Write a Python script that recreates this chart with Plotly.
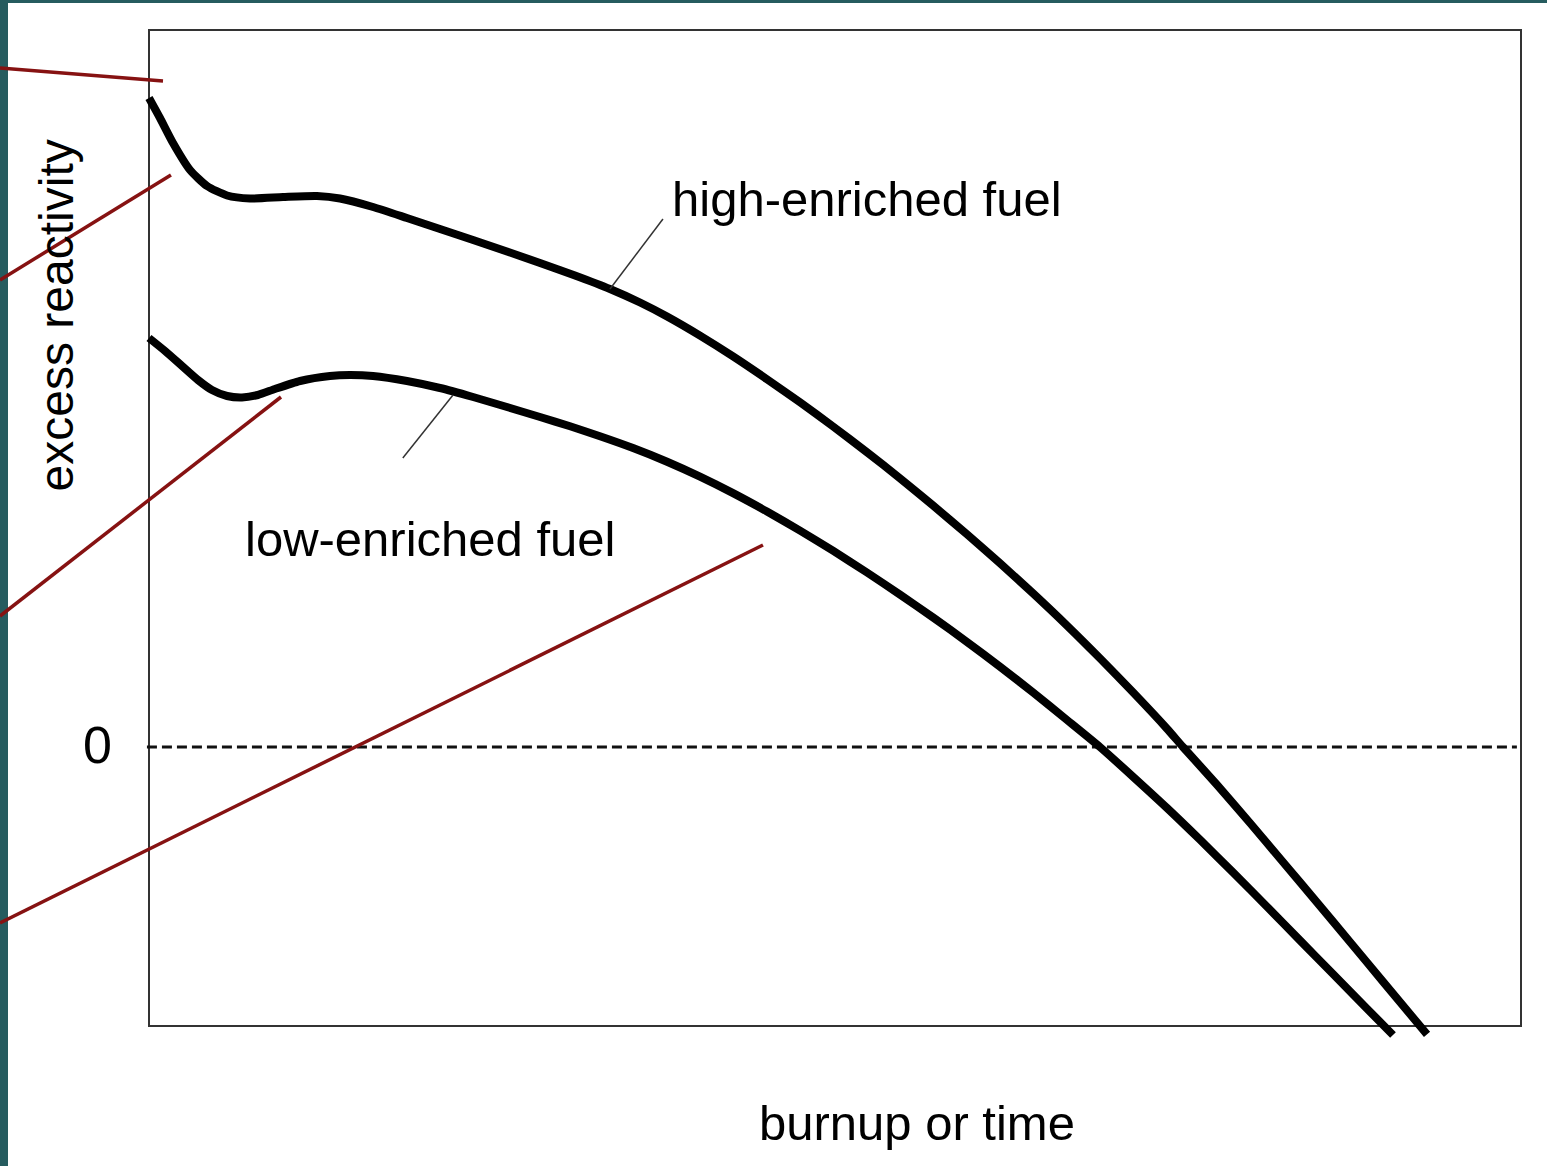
import plotly.graph_objects as go

# ---- data (burnup in % of the axis span, excess reactivity in arbitrary units) ----
burnup_high = [0, 0.80, 1.75, 2.99, 4.23, 5.69, 7.36, 9.77, 12.24, 13.92, 16.33, 18.80, 21.21, 23.62,
               26.09, 28.50, 31.05, 33.60, 35.79, 37.76, 40.16, 42.57, 45.04, 47.45, 49.85, 52.33,
               54.74, 57.14, 59.62, 62.03, 64.43, 66.91, 69.31, 71.72, 74.20, 75.36, 77.84, 80.25,
               82.65, 85.13, 87.54, 89.94, 93.15]
excess_high = [6.49, 6.29, 6.04, 5.77, 5.61, 5.515, 5.485, 5.50, 5.51, 5.485, 5.40, 5.29, 5.18, 5.07,
               4.955, 4.84, 4.715, 4.58, 4.445, 4.305, 4.114, 3.906, 3.678, 3.447, 3.206, 2.948,
               2.687, 2.416, 2.127, 1.837, 1.537, 1.214, 0.887, 0.547, 0.183, 0.0, -0.377, -0.76,
               -1.15, -1.554, -1.95, -2.346, -2.874]

burnup_low = [0, 1.17, 2.41, 3.57, 4.59, 5.69, 6.78, 7.94, 9.18, 11.01, 13.19, 14.65, 16.33, 18.80,
              21.21, 23.62, 26.09, 28.50, 30.69, 32.87, 35.28, 37.76, 40.16, 42.57, 45.04, 47.45,
              49.85, 52.33, 54.74, 57.14, 59.62, 62.03, 64.43, 66.91, 69.31, 71.72, 74.20, 76.60,
              79.01, 81.49, 83.89, 86.30, 88.78, 90.67]
excess_low = [4.09, 3.96, 3.81, 3.67, 3.57, 3.51, 3.495, 3.52, 3.58, 3.66, 3.71, 3.72, 3.71, 3.66,
              3.59, 3.50, 3.40, 3.30, 3.207, 3.108, 2.99, 2.853, 2.704, 2.539, 2.355, 2.164,
              1.963, 1.745, 1.524, 1.296, 1.051, 0.803, 0.546, 0.27, 0.0, -0.297, -0.61, -0.927,
              -1.254, -1.597, -1.934, -2.27, -2.617, -2.88]

curve_names = ["high-enriched fuel", "low-enriched fuel"]
x_title = "burnup or time"
y_title = "excess reactivity"
zero_label = "0"

FONT = "Liberation Sans, Arial, sans-serif"
RED = "#861212"
TEAL = "#265c5f"

fig = go.Figure()
for xs, ys, nm in [(burnup_high, excess_high, curve_names[0]), (burnup_low, excess_low, curve_names[1])]:
    fig.add_trace(go.Scatter(x=xs, y=ys, mode="lines", name=nm,
                             line=dict(color="black", width=8, shape="spline", smoothing=0.6),
                             showlegend=False, hoverinfo="skip"))

shapes = []
# plot frame
shapes.append(dict(type="rect", xref="x", yref="y", x0=0, x1=100, y0=-2.79, y1=7.17,
                   line=dict(color="#333333", width=2), layer="below"))
# zero line
shapes.append(dict(type="line", xref="x", yref="y", x0=-0.15, x1=99.7, y0=0, y1=0,
                   line=dict(color="#111111", width=3, dash="10px,5px"), layer="below"))
# leader lines for labels
shapes.append(dict(type="line", xref="x", yref="y", x0=33.6, y0=4.58, x1=37.46, y1=5.28,
                   line=dict(color="#333333", width=1.5)))
shapes.append(dict(type="line", xref="x", yref="y", x0=18.5, y0=2.89, x1=22.16, y1=3.52,
                   line=dict(color="#333333", width=1.5)))
# slide frame (teal)
shapes.append(dict(type="rect", xref="paper", yref="paper", x0=0, x1=8 / 1547, y0=0, y1=1,
                   fillcolor=TEAL, line=dict(width=0), layer="below"))
shapes.append(dict(type="rect", xref="paper", yref="paper", x0=0, x1=1, y0=1 - 3 / 1166, y1=1,
                   fillcolor=TEAL, line=dict(width=0), layer="below"))
# dark red pointer lines from the slide
for (xa, ya, xb, yb) in [(-10.86, 6.79, 1.02, 6.66),
                         (-10.86, 4.67, 1.60, 5.72),
                         (-10.86, 1.31, 9.62, 3.50),
                         (-10.86, -1.76, 44.75, 2.02)]:
    shapes.append(dict(type="line", xref="x", yref="y", x0=xa, y0=ya, x1=xb, y1=yb,
                       line=dict(color=RED, width=3.5)))

annotations = [
    dict(x=52.33, y=5.48, xref="x", yref="y", text=curve_names[0], showarrow=False,
         font=dict(family=FONT, size=49, color="black"), xanchor="center", yanchor="middle"),
    dict(x=20.48, y=2.08, xref="x", yref="y", text=curve_names[1], showarrow=False,
         font=dict(family=FONT, size=49, color="black"), xanchor="center", yanchor="middle"),
    dict(x=55.98, y=-3.76, xref="x", yref="y", text=x_title, showarrow=False,
         font=dict(family=FONT, size=49, color="black"), xanchor="center", yanchor="middle"),
    dict(x=-6.75, y=4.32, xref="x", yref="y", text=y_title, showarrow=False, textangle=-90,
         font=dict(family=FONT, size=48, color="black"), xanchor="center", yanchor="middle"),
    dict(x=-3.79, y=0.02, xref="x", yref="y", text=zero_label, showarrow=False,
         font=dict(family=FONT, size=52, color="black"), xanchor="center", yanchor="middle"),
]

fig.update_layout(
    width=1547, height=1166, autosize=False,
    margin=dict(l=0, r=0, t=0, b=0, pad=0),
    paper_bgcolor="white", plot_bgcolor="white",
    xaxis=dict(range=[-10.86, 101.895], visible=False, fixedrange=True),
    yaxis=dict(range=[-4.19, 7.47], visible=False, fixedrange=True),
    shapes=shapes, annotations=annotations, showlegend=False,
)

fig.write_html("out.html", config={"displayModeBar": False},
               post_script="document.body.style.margin='0px';document.body.style.overflow='hidden';")
